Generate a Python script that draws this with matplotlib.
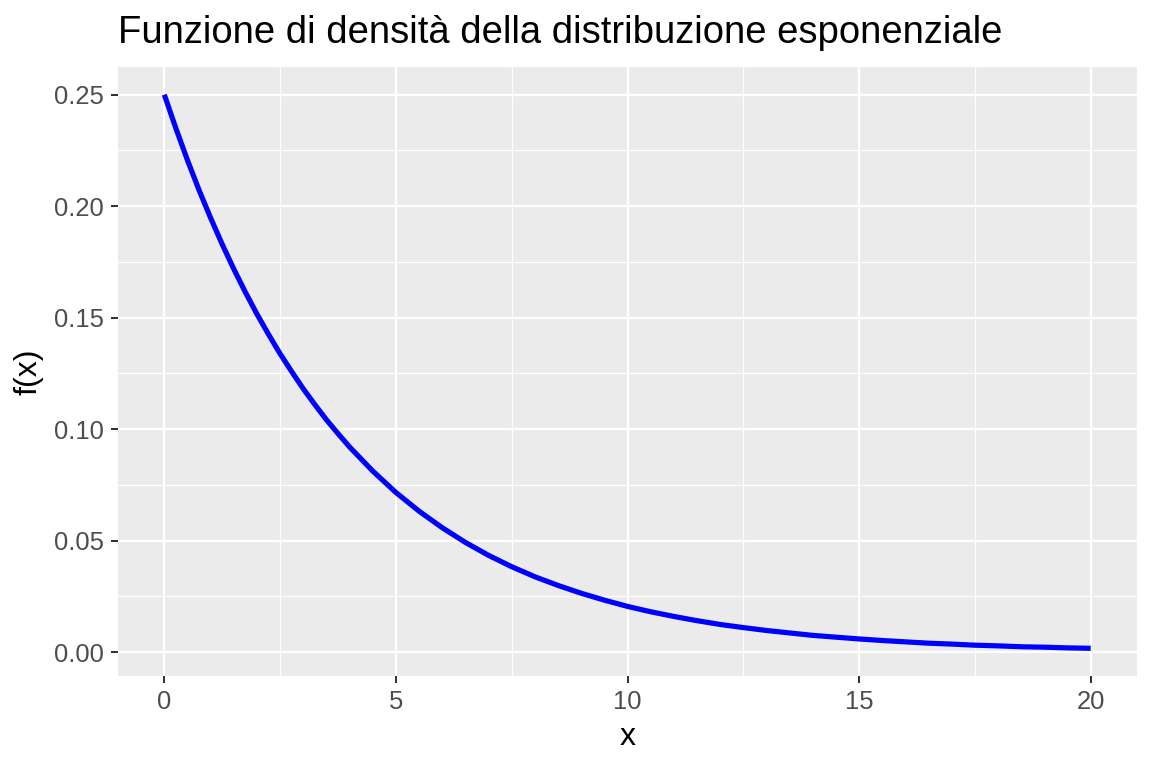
import matplotlib
matplotlib.use("Agg")
import matplotlib.pyplot as plt
from matplotlib.ticker import MultipleLocator

plt.rcParams['font.family'] = ['Liberation Sans', 'DejaVu Sans']

x_vals = [0, 0.25, 0.5, 0.75, 1, 1.25, 1.5, 1.75, 2, 2.25, 2.5, 2.75, 3, 3.25, 3.5, 3.75,
          4, 4.5, 5, 5.5, 6, 6.5, 7, 7.5, 8, 8.5, 9, 9.5,
          10, 10.5, 11, 11.5, 12, 12.5, 13, 13.5, 14, 14.5, 15, 15.5, 16, 16.5, 17, 17.5,
          18, 18.5, 19, 19.5, 20]
y_vals = [0.25, 0.2349, 0.2206, 0.2072, 0.1947, 0.1829, 0.1718, 0.1614, 0.1516, 0.1425,
          0.1338, 0.1258, 0.1181, 0.1110, 0.1042, 0.0980, 0.0920, 0.0812,
          0.0716, 0.0632, 0.0558, 0.0492, 0.0434, 0.0383, 0.0338, 0.0299, 0.0264, 0.0233,
          0.0205, 0.0181, 0.0160, 0.0141, 0.0124, 0.0110, 0.0097, 0.0086, 0.0075, 0.0067,
          0.0059, 0.0052, 0.0046, 0.0040, 0.0036, 0.0031, 0.0028, 0.0024, 0.0022, 0.0019,
          0.0017]
x_ticks = [0, 5, 10, 15, 20]
y_ticks = [0.00, 0.05, 0.10, 0.15, 0.20, 0.25]
y_tick_labels = ["0.00", "0.05", "0.10", "0.15", "0.20", "0.25"]

fig = plt.figure(figsize=(8, 768/144), dpi=144)
W, H = 1152, 768
ax = fig.add_axes([118/W, 1 - 676/H, (1137-118)/W, (676-67)/H])
ax.set_facecolor('#EBEBEB')
for s in ax.spines.values():
    s.set_visible(False)

ax.plot(x_vals, y_vals, color='blue', lw=2.6, solid_capstyle='butt',
        solid_joinstyle='round', zorder=3)

ymin, ymax = min(y_vals), max(y_vals)
pad = 0.05 * (ymax - ymin)
ax.set_xlim(-1, 21)
ax.set_ylim(ymin - pad, ymax + pad)

ax.set_xticks(x_ticks)
ax.set_xticklabels([str(t) for t in x_ticks])
ax.set_yticks(y_ticks)
ax.set_yticklabels(y_tick_labels)
ax.xaxis.set_minor_locator(MultipleLocator(2.5))
ax.yaxis.set_minor_locator(MultipleLocator(0.025))
ax.grid(which='major', color='white', lw=1.1, zorder=0)
ax.grid(which='minor', color='white', lw=0.55, zorder=0)
ax.set_axisbelow(True)
ax.tick_params(which='major', length=3.7, width=1.0, color='#333333',
               labelcolor='#4D4D4D', labelsize=12.8, pad=3.5)
ax.tick_params(which='minor', length=0)

ax.set_xlabel('x', fontsize=16, color='black', labelpad=4)
ax.set_ylabel('f(x)', fontsize=16, color='black', labelpad=5)
fig.text(118/W, 1 - 33/H, 'Funzione di densità della distribuzione esponenziale',
         fontsize=19.1, color='black', va='center', ha='left')

fig.savefig('out.png', dpi=144)
